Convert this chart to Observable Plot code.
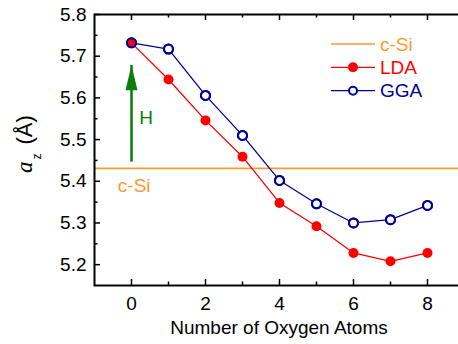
<!DOCTYPE html>
<html><head><meta charset="utf-8">
<script src="https://cdn.jsdelivr.net/npm/d3@7"></script>
<script src="https://cdn.jsdelivr.net/npm/@observablehq/plot@0.6"></script>
<style>
html,body{margin:0;padding:0;background:#fff;overflow:hidden;}
#wrap{position:relative;width:458px;height:344px;overflow:hidden;}
#wrap svg{display:block;max-width:none !important;width:464px !important;height:344px !important;}
</style></head><body><div id="wrap"></div>
<script>
// ---- data ----
const atoms = [0, 1, 2, 3, 4, 5, 6, 7, 8];
const lda = [5.732, 5.644, 5.546, 5.459, 5.348, 5.292, 5.228, 5.208, 5.228];
const gga = [5.732, 5.717, 5.606, 5.510, 5.402, 5.346, 5.300, 5.308, 5.342];
const cSi = 5.431;
const xMajor = [0, 2, 4, 6, 8];
const xMinor = [1, 3, 5, 7];
const yMajor = [5.2, 5.3, 5.4, 5.5, 5.6, 5.7, 5.8];
const yMinor = [5.25, 5.35, 5.45, 5.55, 5.65, 5.75];
const arrowX = [0];
const arrowFrom = [5.47];
const arrowTo = [5.678];
const hLabel = ["H"];
const hLabelX = [0.21];
const hLabelY = [5.552];
const siLabel = ["c-Si"];
const siLabelX = [-0.37];
const siLabelY = [5.388];
const seriesNames = ["c-Si", "LDA", "GGA"];

// ---- style ----
const RED = "#ff0000", BLUE = "#000099", ORANGE = "#ff9933", GREEN = "#0a7d0a";
const W = 464, H = 344, ML = 94, MR = 0, MT = 14, MB = 59;
const PW = W - ML - MR, PH = H - MT - MB;
const FONT = "'Liberation Sans', Arial, Helvetica, sans-serif";
const FS = 19;

const rowsL = atoms.map((a, i) => ({x: a, y: lda[i]}));
const rowsG = atoms.map((a, i) => ({x: a, y: gga[i]}));
const arrowRows = arrowX.map((x, i) => ({x, y1: arrowFrom[i], y2: arrowTo[i]}));

const arrowHead = {draw(ctx) { ctx.moveTo(0, 0); ctx.lineTo(6, 25); ctx.lineTo(-6, 25); ctx.closePath(); }};

const plot = Plot.plot({
  width: W, height: H,
  marginLeft: ML, marginRight: MR, marginTop: MT, marginBottom: MB,
  style: {fontFamily: FONT, fontSize: FS + "px", color: "#000", background: "#fff"},
  x: {domain: [-1, 9]},
  y: {domain: [5.15, 5.8]},
  marks: [
    Plot.ruleY([cSi], {stroke: ORANGE, strokeWidth: 1.6}),
    Plot.ruleX(arrowRows, {x: "x", y1: "y1", y2: "y2", stroke: GREEN, strokeWidth: 2.5, insetTop: 10}),
    Plot.dot(arrowRows, {x: "x", y: "y2", symbol: arrowHead, fill: GREEN, stroke: "none"}),
    Plot.text(hLabel, {x: hLabelX, y: hLabelY, text: d => d, fill: GREEN, textAnchor: "start", fontSize: FS}),
    Plot.text(siLabel, {x: siLabelX, y: siLabelY, text: d => d, fill: ORANGE, textAnchor: "start", fontSize: FS}),
    Plot.line(rowsL, {x: "x", y: "y", stroke: RED, strokeWidth: 1.3}),
    Plot.line(rowsG, {x: "x", y: "y", stroke: BLUE, strokeWidth: 1.3}),
    Plot.dot(rowsG, {x: "x", y: "y", r: 4.5, fill: "#fff", stroke: BLUE, strokeWidth: 2}),
    Plot.dot(rowsL, {x: "x", y: "y", r: 5, fill: RED, stroke: "none"}),
    Plot.dot(rowsG, {x: "x", y: "y", r: 4.5, fill: "none", stroke: BLUE, strokeWidth: 2}),
    // inward ticks
    Plot.tickX(xMajor, {x: d => d, insetTop: PH - 6, stroke: "#000", strokeWidth: 1.5}),
    Plot.tickX(xMajor, {x: d => d, insetBottom: PH - 6, stroke: "#000", strokeWidth: 1.5}),
    Plot.tickX(xMinor, {x: d => d, insetTop: PH - 3.5, stroke: "#000", strokeWidth: 1.5}),
    Plot.tickX(xMinor, {x: d => d, insetBottom: PH - 3.5, stroke: "#000", strokeWidth: 1.5}),
    Plot.tickY(yMajor, {y: d => d, insetRight: PW - 6, stroke: "#000", strokeWidth: 1.5}),
    Plot.tickY(yMajor, {y: d => d, insetLeft: PW - 6, stroke: "#000", strokeWidth: 1.5}),
    Plot.tickY(yMinor, {y: d => d, insetRight: PW - 3.5, stroke: "#000", strokeWidth: 1.5}),
    Plot.tickY(yMinor, {y: d => d, insetLeft: PW - 3.5, stroke: "#000", strokeWidth: 1.5}),
    Plot.axisX({ticks: xMajor, tickSize: 0, tickPadding: 11, fontSize: FS, label: null}),
    Plot.axisY({ticks: yMajor, tickSize: 0, tickPadding: 8, fontSize: FS, tickFormat: d3.format(".1f"), label: null}),
    Plot.frame({stroke: "#000", strokeWidth: 2})
  ]
});
document.getElementById("wrap").appendChild(plot);

const svg = d3.select(plot);
// x label
svg.append("text").attr("x", ML + PW / 2).attr("y", 334).attr("text-anchor", "middle")
  .attr("font-family", FONT).attr("font-size", FS).attr("fill", "#000").text("Number of Oxygen Atoms");
// y label
const yl = svg.append("text").attr("transform", "translate(32,173) rotate(-90)")
  .attr("text-anchor", "start").attr("fill", "#000").attr("font-family", FONT).attr("font-size", 22);
yl.append("tspan").attr("font-family", "'Liberation Serif', 'Times New Roman', serif").attr("font-style", "italic").attr("font-size", 23).text("a");
yl.append("tspan").attr("font-size", 12).attr("dx", 2).attr("dy", 9).text("z");
yl.append("tspan").attr("dx", 9).attr("dy", -9).text("(Å)");

// legend
const leg = svg.append("g");
const legColors = [ORANGE, RED, BLUE];
const legY = [44, 67.3, 90.7];
seriesNames.forEach((name, i) => {
  const g = leg.append("g").attr("transform", `translate(0,${legY[i]})`);
  g.append("line").attr("x1", 331).attr("x2", 375).attr("stroke", legColors[i]).attr("stroke-width", 1.3);
  if (i === 1) g.append("circle").attr("cx", 353).attr("r", 5).attr("fill", RED);
  if (i === 2) g.append("circle").attr("cx", 353).attr("r", 4).attr("fill", "#fff").attr("stroke", BLUE).attr("stroke-width", 2);
  g.append("text").attr("x", 380).attr("dy", "0.35em").attr("text-anchor", "start").attr("font-family", FONT).attr("font-size", FS)
    .attr("fill", legColors[i]).text(name);
});
</script></body></html>
